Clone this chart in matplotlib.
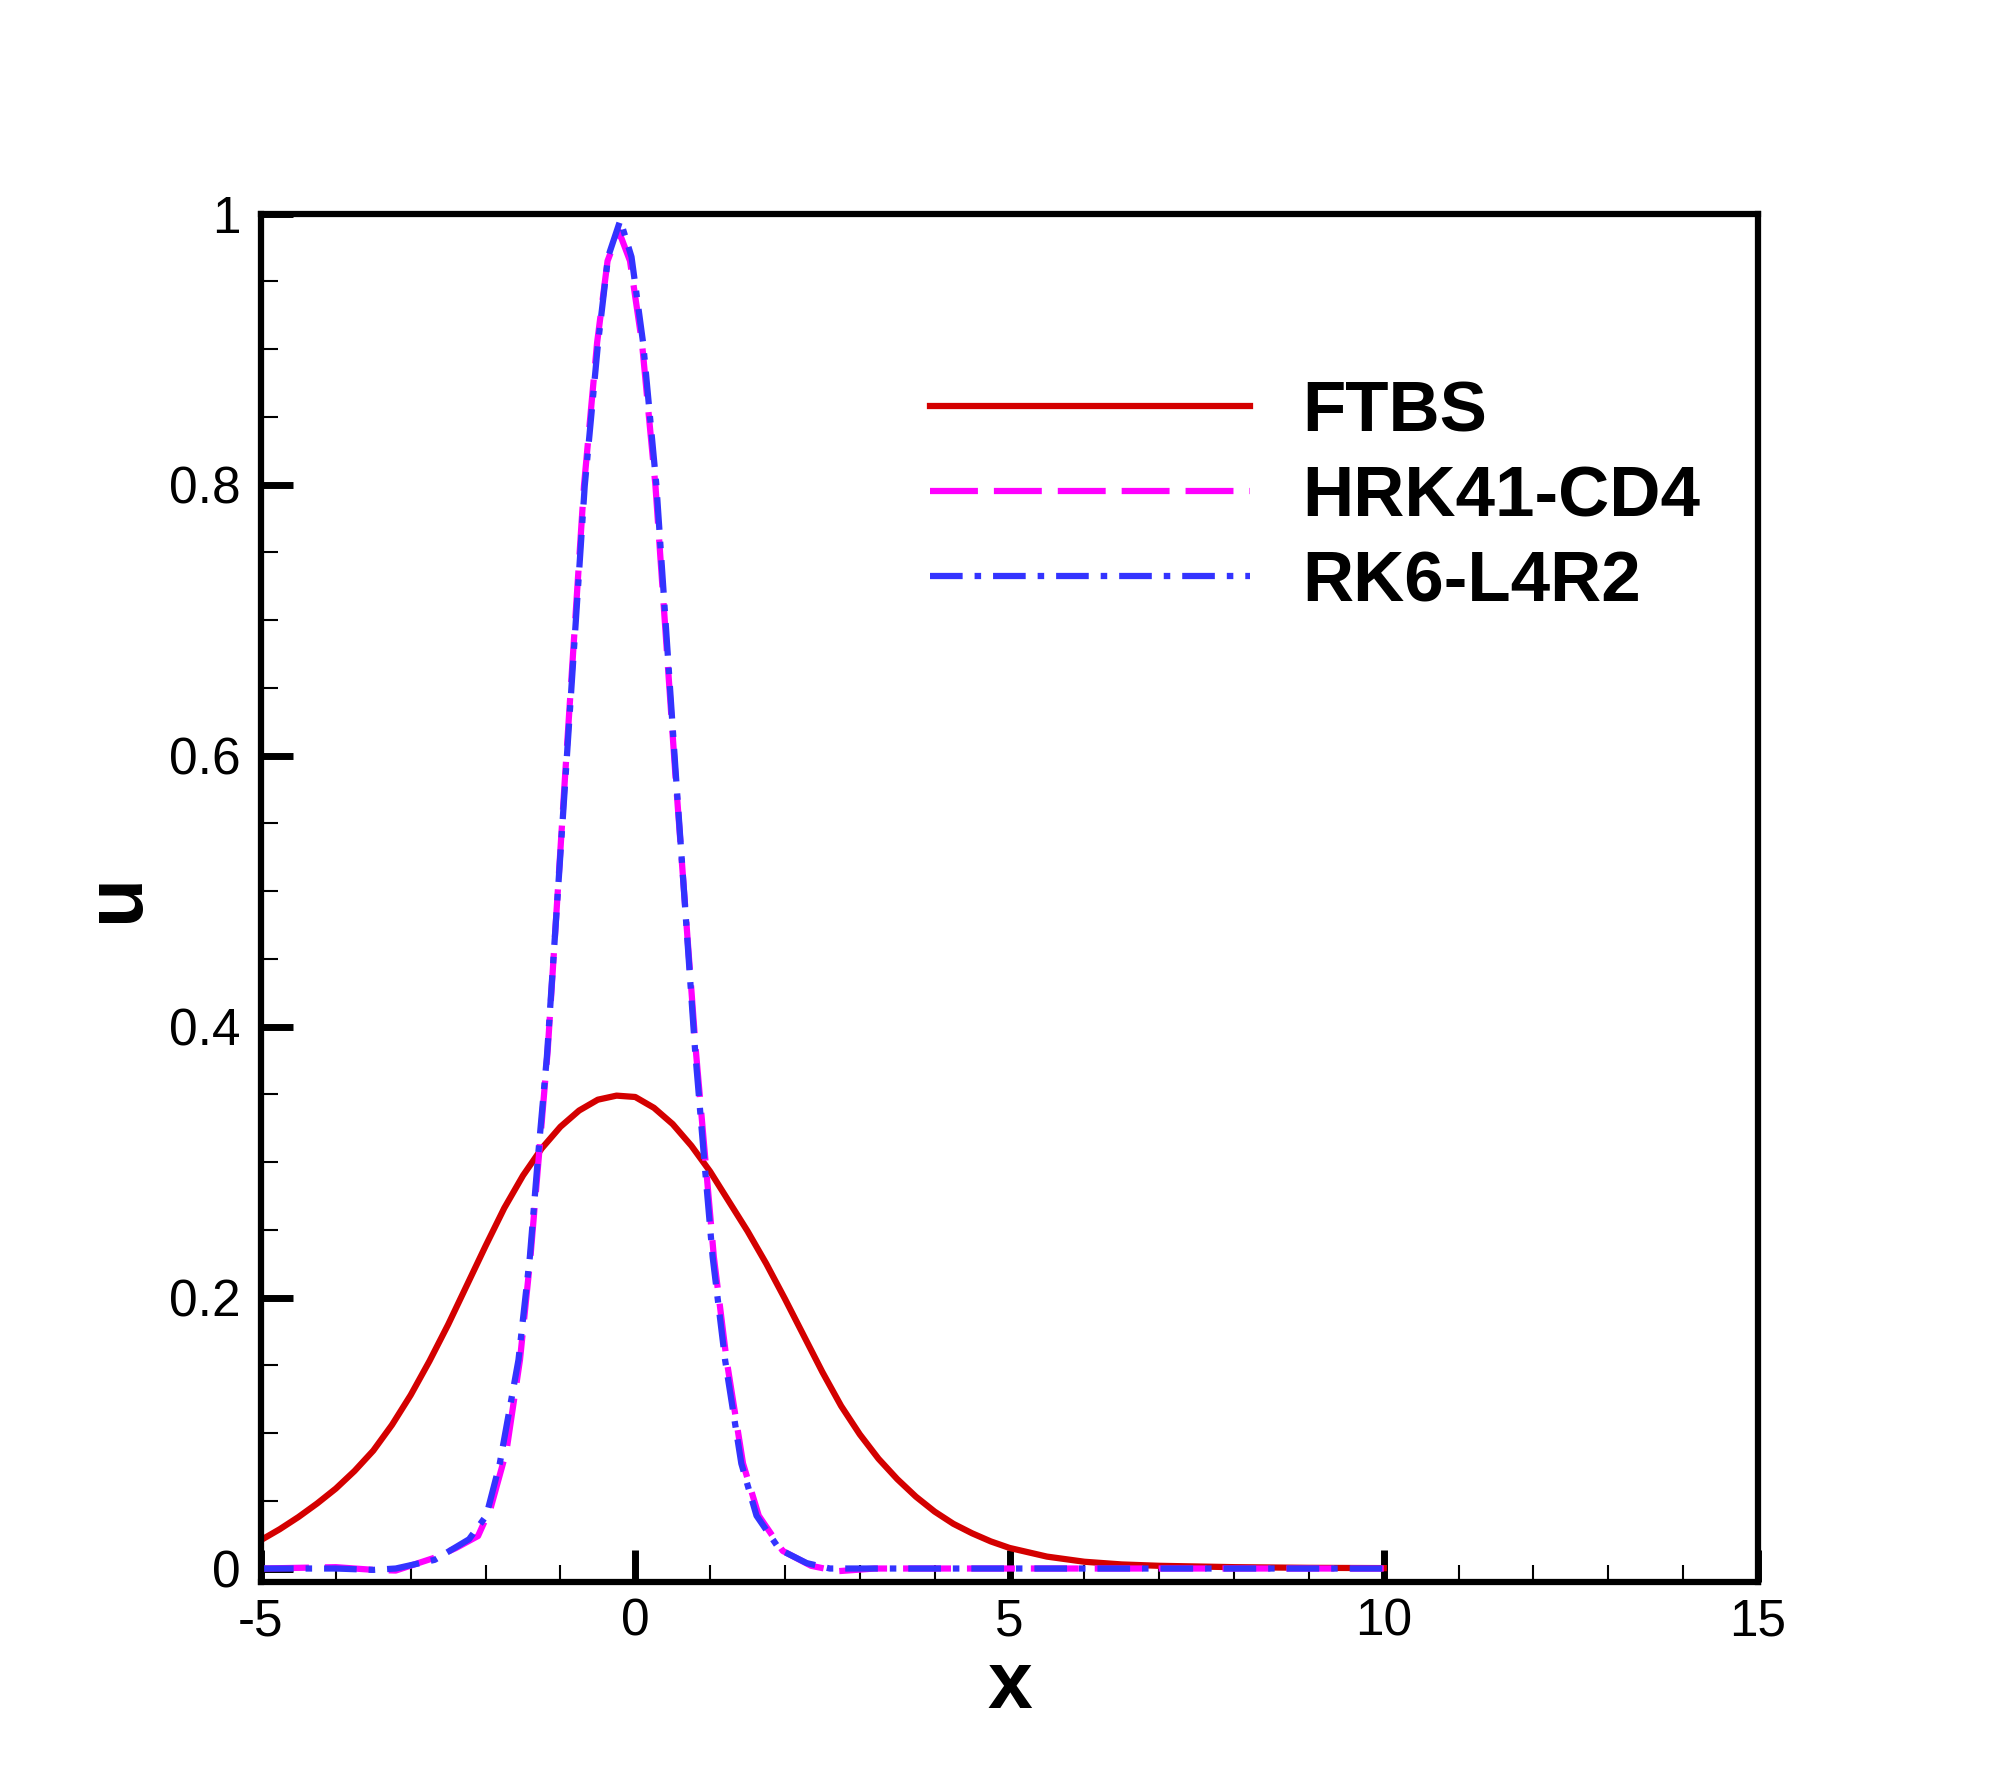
import matplotlib
matplotlib.use("Agg")
import matplotlib.pyplot as plt
from matplotlib.ticker import MultipleLocator, FuncFormatter

plt.rcParams['font.family'] = ['Liberation Sans', 'DejaVu Sans']
plt.rcParams['axes.unicode_minus'] = False
plt.rcParams['lines.scale_dashes'] = False

# FTBS (red, solid)
x_ftbs = [-5.0, -4.75, -4.5, -4.25, -4.0, -3.75, -3.5, -3.25, -3.0, -2.75,
          -2.5, -2.25, -2.0, -1.75, -1.5, -1.25, -1.0, -0.75, -0.5, -0.25,
          0.0, 0.25, 0.5, 0.75, 1.0, 1.25, 1.5, 1.75, 2.0, 2.25,
          2.5, 2.75, 3.0, 3.25, 3.5, 3.75, 4.0, 4.25, 4.5, 4.75,
          5.0, 5.5, 6.0, 6.5, 7.0, 8.0, 9.0, 10.0]
u_ftbs = [0.021, 0.029, 0.038, 0.048, 0.059, 0.072, 0.087, 0.106, 0.128, 0.153,
          0.180, 0.209, 0.238, 0.266, 0.290, 0.310, 0.326, 0.338, 0.346, 0.349,
          0.348, 0.340, 0.328, 0.312, 0.293, 0.271, 0.249, 0.225, 0.199, 0.172,
          0.145, 0.120, 0.099, 0.081, 0.066, 0.053, 0.042, 0.033, 0.026, 0.020,
          0.0152, 0.0088, 0.005, 0.003, 0.002, 0.001, 0.0005, 0.0003]

# HRK41-CD4 (magenta, dashed)
x_hrk = [-5.0, -4.0, -3.5, -3.2, -2.7, -2.4, -2.1, -1.93, -1.72, -1.54,
         -1.40, -1.285, -1.17, -0.935, -0.685, -0.51, -0.37, -0.22, -0.07, 0.09,
         0.27, 0.535, 0.81, 0.93, 1.05, 1.22, 1.44, 1.65, 1.97, 2.35,
         2.7, 3.2, 4.0, 5.0, 6.0, 7.0, 8.0, 9.0, 10.0]
u_hrk = [0.0, 0.001, -0.001, -0.0015, 0.0076, 0.015, 0.024, 0.045, 0.087, 0.154,
         0.23, 0.306, 0.382, 0.587, 0.799, 0.9045, 0.965, 0.987, 0.965, 0.9045,
         0.799, 0.587, 0.382, 0.306, 0.23, 0.154, 0.0775, 0.039, 0.013, 0.002,
         -0.002, 0.0, 0.0, 0.0, 0.0, 0.0, 0.0, 0.0, 0.0]

# RK6-L4R2 (blue, dash-dot)
x_rk6 = [-5.0, -4.0, -3.5, -3.2, -2.68, -2.22, -1.99, -1.81, -1.56, -1.408,
         -1.296, -1.18, -0.928, -0.675, -0.497, -0.363, -0.2, -0.05, 0.105, 0.283,
         0.541, 0.80, 0.915, 1.034, 1.20, 1.417, 1.62, 1.93, 2.29, 2.6,
         3.0, 4.0, 5.0, 6.0, 7.0, 8.0, 9.0, 10.0]
u_rk6 = [0.0, 0.0, -0.001, 0.0, 0.0064, 0.0216, 0.039, 0.0775, 0.154, 0.23,
         0.306, 0.378, 0.587, 0.799, 0.9045, 0.968, 0.995, 0.968, 0.9045, 0.799,
         0.587, 0.382, 0.306, 0.23, 0.154, 0.0775, 0.039, 0.014, 0.004, 0.0,
         0.0, 0.0, 0.0, 0.0, 0.0, 0.0, 0.0, 0.0]

xticks = [-5, 0, 5, 10, 15]
yticks = [0, 0.2, 0.4, 0.6, 0.8, 1]

fig = plt.figure(figsize=(20, 17.78), dpi=100)
ax = fig.add_axes([0.1305, 0.1102, 0.7485, 0.7697])

ax.plot(x_ftbs, u_ftbs, color='#D40000', lw=4.5, label='FTBS')
ax.plot(x_hrk, u_hrk, color='#FF00FF', lw=4.5, dashes=(34.5, 11.5), label='HRK41-CD4')
ax.plot(x_rk6, u_rk6, color='#3333FF', lw=4.5, dashes=(23.5, 8.6, 4.7, 8.6), label='RK6-L4R2')

ax.set_xlim(-5, 15)
ax.set_ylim(-0.01, 1)
ax.set_xticks(xticks)
ax.set_yticks(yticks)
ax.xaxis.set_minor_locator(MultipleLocator(1))
ax.yaxis.set_minor_locator(MultipleLocator(0.05))
ax.xaxis.set_major_formatter(FuncFormatter(lambda v, p: f'{v:g}'))
ax.yaxis.set_major_formatter(FuncFormatter(lambda v, p: f'{v:g}'))

for s in ax.spines.values():
    s.set_linewidth(4.5)
ax.tick_params(which='both', direction='in', top=False, right=False)
ax.tick_params(which='major', length=23, width=5, labelsize=37)
ax.tick_params(which='minor', length=12.5, width=1.5)
ax.tick_params(axis='x', which='major', pad=11)
ax.tick_params(axis='y', which='major', pad=15)

ax.set_xlabel('x', fontsize=58, fontweight='bold')
ax.set_ylabel('u', fontsize=58, fontweight='bold')
ax.xaxis.set_label_coords(0.5, -0.049)
ax.yaxis.set_label_coords(-0.071, 0.5)

ax.legend(loc='upper left', bbox_to_anchor=(930 / 2000, 1 - 380 / 1778),
          bbox_transform=fig.transFigure, frameon=False,
          prop=dict(family='Liberation Sans', weight='bold', size=51),
          handlelength=4.52, handletextpad=0.73, labelspacing=0.27,
          borderpad=0, borderaxespad=0)

fig.savefig('out.png', dpi=100)
